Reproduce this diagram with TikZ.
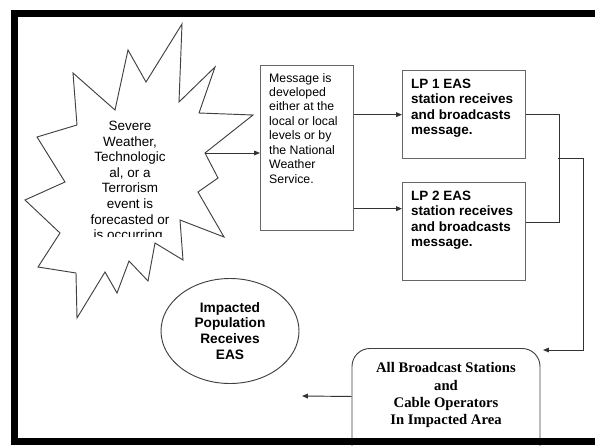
\documentclass[tikz,border=0pt]{standalone}
\usepackage{fontspec}
\setmainfont{Liberation Sans}
\newfontfamily\timesfont{Liberation Serif}
\usetikzlibrary{shapes.geometric, arrows.meta}
\tikzset{
    base/.style={draw=black!60, line width=1.1pt, rectangle, anchor=north west, inner sep=0pt},
    txt/.style={anchor=north west, inner sep=0pt, align=left, font=\fontsize{10.5}{12.3}\selectfont},
    boldtxt/.style={txt, font=\fontsize{11.5}{13}\selectfont\bfseries},
    line/.style={draw=black!80, line width=0.8pt},
    arrow/.style={line, -{Triangle[length=5pt, width=4pt]}}
}
\begin{document}
\begin{tikzpicture}[x=0.03cm, y=-0.03cm]
\useasboundingbox (0,0) rectangle (595,445);
\clip (0,0) rectangle (595,445);
% the event
\draw[draw=black!75, line width=0.8pt, line join=miter] (182,24) -- (179,102) -- (215,67) -- (199,113) -- (253,115) -- (205,153) -- (218,178) -- (198,192) -- (224,237) -- (180,220) -- (183,260) -- (155,243) -- (148,281) -- (129,261) -- (117,293) -- (105,272) -- (77,318) -- (76,273) -- (38,267) -- (60,233) -- (25,200) -- (65,182) -- (37,137) -- (77,125) -- (73,73) -- (115,110) -- (128,50) -- (146,82) -- cycle;
\begin{scope}
\clip (70,100) rectangle (200,236);
\node[anchor=north, inner sep=0pt, align=center, font=\fontsize{11.5}{13.3}\selectfont] (eventtxt) at (130,121) {Severe\\Weather,\\Technologic\\al, or a\\Terrorism\\event is\\forecasted or\\is occurring.};
\end{scope}
\coordinate (burst) at (205,153);
% message and stations
\node[base, minimum width=2.79cm, minimum height=4.95cm] (msg) at (260,65) {};
\node[txt] (msgtxt) at (269,73) {Message is\\developed\\either at the\\local or local\\levels or by\\the National\\Weather\\Service.};
\node[base, minimum width=3.69cm, minimum height=2.64cm] (lp1) at (402,70) {};
\node[boldtxt] (lp1txt) at (411,79) {LP 1 EAS\\station receives\\and broadcasts\\message.};
\node[base, minimum width=3.69cm, minimum height=2.94cm] (lp2) at (402,182) {};
\node[boldtxt] (lp2txt) at (411,191) {LP 2 EAS\\station receives\\and broadcasts\\message.};
% outcome
\node[ellipse, draw=black!75, line width=0.8pt, minimum width=4.14cm, minimum height=3.15cm, inner sep=0pt, align=center, font=\fontsize{11.7}{13.5}\selectfont\bfseries] (pop) at (230,331) {Impacted\\Population\\Receives\\EAS};
\node[draw=black!75, line width=0.8pt, rounded corners=0.54cm, minimum width=5.64cm, minimum height=3.6cm, anchor=north, inner sep=0pt] (bcast) at (446,348) {};
\node[anchor=north, inner sep=0pt, align=center, font=\timesfont\bfseries\fontsize{12.5}{14.7}\selectfont] (bcasttxt) at (446,362.5) {All Broadcast Stations\\and\\Cable Operators\\In Impacted Area};
% connectors
\coordinate (lp2in) at ([yshift=0.69cm]lp2.west);
\coordinate (lp2out) at ([yshift=0.27cm]lp2.east);
\coordinate (lpjoin) at (558,158);
\coordinate (bcastin) at (543,350);
\coordinate (bcastout) at ([yshift=0.36cm]bcast.west);
\coordinate (popin) at (302,396);
\draw[arrow] (burst) -- (burst -| msg.west);
\draw[arrow] (msg.east |- lp1.west) -- (lp1.west);
\draw[arrow] (msg.east |- lp2in) -- (lp2in);
\draw[line] (lp1.east) -- ++(33,0) |- (lp2out);
\draw[arrow] (lpjoin) -- ++(25,0) |- (bcastin);
\draw[arrow] (bcastout) -- (popin);
% frame
\draw[line width=0.21cm] (595,13) -- (14.5,13) -- (14.5,441.5) -- (595,441.5);
\end{tikzpicture}
\end{document}
